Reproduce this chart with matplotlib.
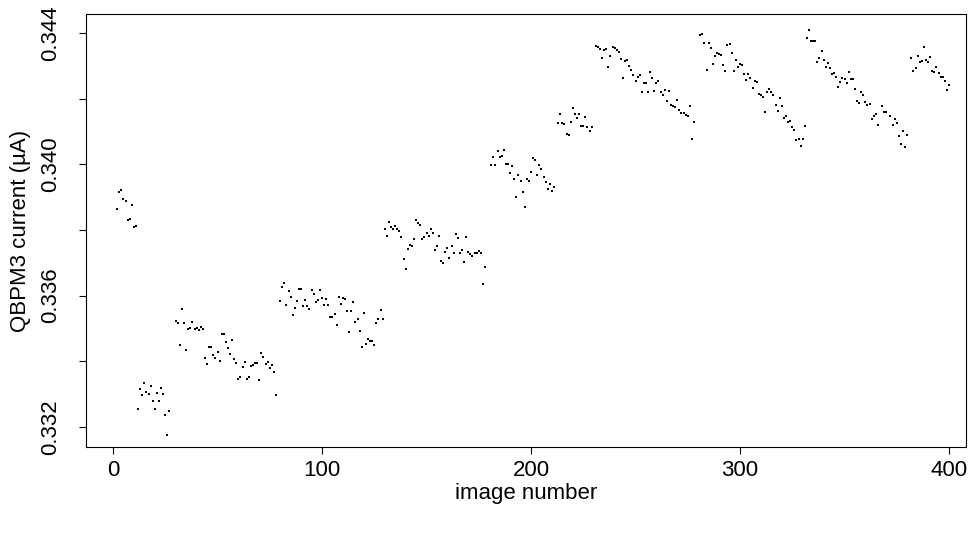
import matplotlib
matplotlib.use("Agg")
import matplotlib.pyplot as plt

plt.rcParams['font.family'] = ['Liberation Sans', 'DejaVu Sans']

image_number = [
    2, 3, 4, 5, 6, 7, 8, 9, 10, 11,
    12, 13, 14, 15, 16, 17, 18, 19, 20, 21, 22, 23, 24, 25, 26, 27,
    30, 31, 32, 33, 34, 35, 36, 37, 38, 39, 40, 41, 42, 43, 44, 45, 46, 47, 48, 49,
    50, 51, 52, 53, 54, 55, 56, 57, 58, 59, 60, 61, 62, 63, 64, 65, 66, 67, 68, 69,
    70, 71, 72, 73, 74, 75, 76, 77, 78,
    80, 81, 82, 83, 84, 85, 86, 87, 88, 89, 90, 91, 92, 93, 94, 95, 96, 97, 98, 99,
    100, 101, 102, 103, 104, 105, 106, 107, 108, 109, 110, 111, 112, 113, 114, 115,
    116, 117, 118, 119, 120, 121, 122, 123, 124, 125, 126, 127, 128, 129,
    130, 131, 132, 133, 134, 135, 136, 137, 138, 139, 140, 141, 142, 143, 144, 145,
    146, 147, 148, 149, 150, 151, 152, 153, 154, 155, 156, 157, 158, 159, 160, 161,
    162, 163, 164, 165, 166, 167, 168, 169, 170, 171, 172, 173, 174, 175, 176, 177, 178,
    181, 182, 183, 184, 185, 186, 187, 188, 189, 190, 191, 192, 193, 194, 195, 196,
    197, 198, 199, 200, 201, 202, 203, 204, 205, 206, 207, 208, 209, 210, 211,
    213, 214, 215, 216, 217, 218, 219, 220, 221, 222, 223, 224, 225, 226, 227, 228, 229,
    231, 232, 233, 234, 235, 236, 237, 238, 239, 240, 241, 242, 243, 244, 245, 246,
    247, 248, 249, 250, 251, 252, 253, 254, 255, 256, 257, 258, 259, 260, 261, 262,
    263, 264, 265, 266, 267, 268, 269, 270, 271, 272, 273, 274, 275, 276, 277, 278,
    281, 282, 283, 284, 285, 286, 287, 288, 289, 290, 291, 292, 293, 294, 295, 296,
    297, 298, 299, 300, 301, 302, 303, 304, 305, 306, 307, 308, 309, 310, 311, 312,
    313, 314, 315, 316, 317, 318, 319, 320, 321, 322, 323, 324, 325, 326, 327, 328,
    329, 330, 331,
    332, 333, 334, 335, 336, 337, 338, 339, 340, 341, 342, 343, 344, 345, 346, 347,
    348, 349, 350, 351, 352, 353, 354, 355, 356, 357, 358, 359, 360, 361, 362, 363,
    364, 365, 366, 368, 369, 370, 372, 373, 374, 375, 376, 377, 378, 379, 380,
    382, 383, 384, 385, 386, 387, 388, 389, 390, 391, 392, 393, 394, 395, 396, 397,
    398, 399, 400,
]

current = [
    0.33863, 0.33915, 0.33922, 0.33894, 0.33887, 0.33830, 0.33835, 0.33875, 0.33808, 0.33812,
    0.33254, 0.33315, 0.33297, 0.33334, 0.33306, 0.33301, 0.33324, 0.33279, 0.33254, 0.33303,
    0.33279, 0.33319, 0.33300, 0.33236, 0.33175, 0.33249,
    0.33522, 0.33516, 0.33449, 0.33559, 0.33516, 0.33434, 0.33498, 0.33501, 0.33519, 0.33498,
    0.33501, 0.33495, 0.33504, 0.33498, 0.33409, 0.33391, 0.33443, 0.33443, 0.33418, 0.33409,
    0.33428, 0.33400, 0.33482, 0.33482, 0.33458, 0.33440, 0.33421, 0.33464, 0.33406, 0.33394,
    0.33345, 0.33351, 0.33382, 0.33397, 0.33345, 0.33351, 0.33385, 0.33388, 0.33394, 0.33394,
    0.33342, 0.33424, 0.33412, 0.33391, 0.33397, 0.33379, 0.33388, 0.33367, 0.33297,
    0.33583, 0.33626, 0.33638, 0.33571, 0.33613, 0.33595, 0.33540, 0.33561, 0.33583, 0.33619,
    0.33619, 0.33568, 0.33586, 0.33568, 0.33559, 0.33617, 0.33604, 0.33580, 0.33586, 0.33617,
    0.33592, 0.33571, 0.33589, 0.33571, 0.33534, 0.33534, 0.33544, 0.33510, 0.33595, 0.33574,
    0.33592, 0.33589, 0.33553, 0.33489, 0.33553, 0.33580, 0.33519, 0.33528, 0.33492, 0.33443,
    0.33546, 0.33453, 0.33467, 0.33461, 0.33461, 0.33449, 0.33516, 0.33528, 0.33555, 0.33528,
    0.33802, 0.33781, 0.33824, 0.33808, 0.33802, 0.33811, 0.33802, 0.33796, 0.33778, 0.33711,
    0.33680, 0.33741, 0.33753, 0.33750, 0.33772, 0.33830, 0.33821, 0.33815, 0.33772, 0.33778,
    0.33790, 0.33781, 0.33802, 0.33790, 0.33738, 0.33750, 0.33781, 0.33705, 0.33699, 0.33733,
    0.33745, 0.33714, 0.33750, 0.33729, 0.33787, 0.33775, 0.33729, 0.33738, 0.33702, 0.33778,
    0.33733, 0.33727, 0.33720, 0.33729, 0.33729, 0.33735, 0.33729, 0.33635, 0.33687,
    0.33997, 0.34021, 0.33997, 0.34040, 0.34021, 0.34025, 0.34044, 0.34000, 0.34000, 0.33973,
    0.33994, 0.33955, 0.33900, 0.33968, 0.33948, 0.33915, 0.33869, 0.33955, 0.33948, 0.33976,
    0.34019, 0.34012, 0.33968, 0.33997, 0.33985, 0.33960, 0.33945, 0.33925, 0.33940, 0.33920,
    0.33930,
    0.34125, 0.34153, 0.34125, 0.34122, 0.34092, 0.34089, 0.34128, 0.34171, 0.34153, 0.34140,
    0.34153, 0.34116, 0.34116, 0.34144, 0.34113, 0.34101, 0.34113,
    0.34360, 0.34357, 0.34351, 0.34323, 0.34348, 0.34351, 0.34296, 0.34329, 0.34357, 0.34354,
    0.34348, 0.34341, 0.34320, 0.34262, 0.34315, 0.34318, 0.34300, 0.34287, 0.34272, 0.34253,
    0.34265, 0.34271, 0.34220, 0.34247, 0.34247, 0.34220, 0.34281, 0.34262, 0.34223, 0.34247,
    0.34253, 0.34220, 0.34211, 0.34226, 0.34193, 0.34223, 0.34181, 0.34178, 0.34174, 0.34196,
    0.34165, 0.34156, 0.34156, 0.34150, 0.34147, 0.34178, 0.34076, 0.34128,
    0.34393, 0.34396, 0.34369, 0.34287, 0.34369, 0.34354, 0.34305, 0.34329, 0.34339, 0.34336,
    0.34333, 0.34302, 0.34284, 0.34363, 0.34366, 0.34339, 0.34284, 0.34318, 0.34296, 0.34305,
    0.34302, 0.34275, 0.34257, 0.34275, 0.34262, 0.34232, 0.34253, 0.34250, 0.34213, 0.34210,
    0.34204, 0.34159, 0.34220, 0.34229, 0.34220, 0.34211, 0.34181, 0.34162, 0.34202, 0.34178,
    0.34141, 0.34147, 0.34129, 0.34132, 0.34113, 0.34104, 0.34073, 0.34076, 0.34055, 0.34076,
    0.34116,
    0.34384, 0.34409, 0.34377, 0.34377, 0.34377, 0.34311, 0.34323, 0.34344, 0.34317, 0.34296,
    0.34309, 0.34293, 0.34275, 0.34278, 0.34266, 0.34235, 0.34250, 0.34263, 0.34259, 0.34247,
    0.34281, 0.34259, 0.34259, 0.34229, 0.34193, 0.34187, 0.34220, 0.34211, 0.34190, 0.34181,
    0.34184, 0.34138, 0.34147, 0.34153, 0.34119, 0.34178, 0.34160, 0.34160, 0.34147, 0.34119,
    0.34138, 0.34126, 0.34086, 0.34061, 0.34101, 0.34052, 0.34089,
    0.34323, 0.34284, 0.34293, 0.34329, 0.34311, 0.34315, 0.34357, 0.34318, 0.34311, 0.34327,
    0.34284, 0.34281, 0.34296, 0.34278, 0.34266, 0.34266, 0.34253, 0.34226, 0.34241,
]

x_ticks = [0, 100, 200, 300, 400]
y_ticks = [0.332, 0.334, 0.336, 0.338, 0.340, 0.342, 0.344]
y_tick_labels = ["0.332", "", "0.336", "", "0.340", "", "0.344"]
x_label = "image number"
y_label = "QBPM3 current (\u00b5A)"

W, H = 979, 533
FS = 16
fig = plt.figure(figsize=(W / 100, H / 100), dpi=100)
ax = fig.add_axes([86 / W, (H - 447) / H, 880 / W, 433 / H])

ax.plot(image_number, current, linestyle='none', marker='s', markersize=1.5,
        markeredgewidth=0, color='black')

px_per_x = 2.09
ax.set_xlim((86 - 113) / px_per_x, (966 - 113) / px_per_x)
px_per_y = 394 / 0.012
ax.set_ylim(0.332 - (447 - 427) / px_per_y, 0.344 + (33 - 14) / px_per_y)

ax.set_xticks(x_ticks)
ax.set_xticklabels([str(t) for t in x_ticks])
ax.set_yticks(y_ticks)
ax.set_yticklabels(y_tick_labels, rotation=90, va='center')

for s in ax.spines.values():
    s.set_linewidth(0.8)
ax.tick_params(direction='out', length=5, width=0.8, labelsize=FS)
ax.tick_params(axis='x', pad=4.5)
ax.tick_params(axis='y', pad=13)
ax.set_xlabel(x_label, fontsize=FS)
ax.set_ylabel(y_label, fontsize=FS)
ax.xaxis.set_label_coords(0.5, -(494 - 447) / 433)
ax.xaxis.label.set_verticalalignment('center')
ax.yaxis.set_label_coords(-(86 - 21) / 880, 0.5)
ax.yaxis.label.set_verticalalignment('center')

fig.savefig("out.png", dpi=100)
